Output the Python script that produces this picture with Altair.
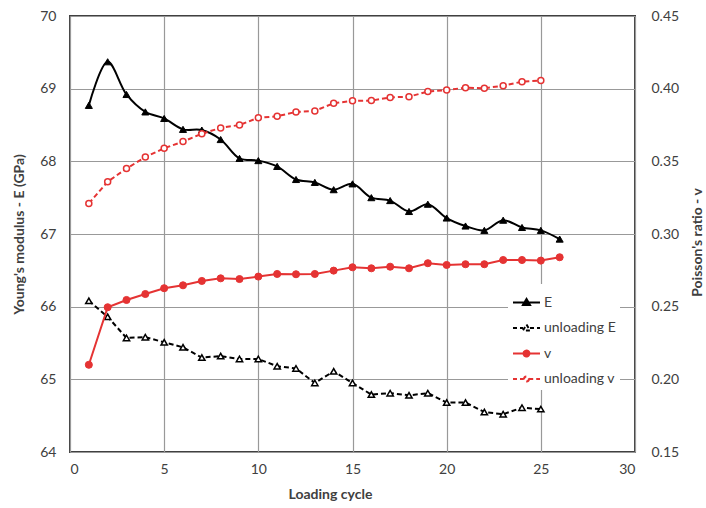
import altair as alt
import pandas as pd

# ---- data ----
cycles_E = list(range(1, 27))
E_vals = [68.77, 69.37, 68.92, 68.68, 68.59, 68.44, 68.43, 68.30, 68.04, 68.01,
          67.93, 67.75, 67.71, 67.61, 67.69, 67.50, 67.46, 67.31, 67.41, 67.22,
          67.11, 67.05, 67.19, 67.09, 67.05, 66.93]

cycles_uE = list(range(1, 26))
uE_vals = [66.08, 65.86, 65.57, 65.58, 65.51, 65.44, 65.30, 65.32, 65.28, 65.28,
           65.18, 65.15, 64.95, 65.11, 64.95, 64.79, 64.81, 64.78, 64.81, 64.68,
           64.68, 64.55, 64.52, 64.61, 64.59]

cycles_v = list(range(1, 27))
v_vals = [0.210, 0.2496, 0.2546, 0.2587, 0.2627, 0.2647, 0.2677, 0.2695, 0.2690, 0.2707,
          0.2725, 0.2723, 0.2725, 0.2748, 0.2771, 0.2764, 0.2775, 0.2764, 0.2799, 0.2787,
          0.2792, 0.2792, 0.2821, 0.2821, 0.2817, 0.2840]

cycles_uv = list(range(1, 26))
uv_vals = [0.321, 0.336, 0.345, 0.353, 0.359, 0.3636, 0.369, 0.373, 0.375, 0.380,
           0.381, 0.384, 0.3847, 0.390, 0.3916, 0.3918, 0.394, 0.3945, 0.398, 0.399,
           0.4007, 0.4003, 0.402, 0.4048, 0.4056]

series_names = ["E", "unloading E", "v", "unloading v"]
x_ticks = [0, 5, 10, 15, 20, 25, 30]
E_ticks = [64, 65, 66, 67, 68, 69, 70]
v_ticks = [0.15, 0.20, 0.25, 0.30, 0.35, 0.40, 0.45]

RED = "#e53333"
BLACK = "#000000"
TXT = "#404040"
FONT = "Lato"

dfE = pd.DataFrame({"cycle": cycles_E, "val": E_vals, "series": "E"})
dfuE = pd.DataFrame({"cycle": cycles_uE, "val": uE_vals, "series": "unloading E"})
dfv = pd.DataFrame({"cycle": cycles_v, "val": v_vals, "series": "v"})
dfuv = pd.DataFrame({"cycle": cycles_uv, "val": uv_vals, "series": "unloading v"})

x_enc = alt.X("cycle:Q", scale=alt.Scale(domain=[0, 30], nice=False),
              axis=alt.Axis(values=x_ticks, title="Loading cycle", grid=True,
                            domain=False, ticks=False, labelPadding=10,
                            titleX=260, titleY=42, titleBaseline="middle",
                            titleAlign="center"))

yE = alt.Y("val:Q", scale=alt.Scale(domain=[64, 70], nice=False, zero=False),
           axis=alt.Axis(values=E_ticks, title="Young's modulus - E (GPa)",
                         orient="left", grid=True, domain=False, ticks=False,
                         labelPadding=14, titleAngle=270, titleX=-51, titleY=218,
                         titleBaseline="middle", titleAlign="center"))

yv = alt.Y("val:Q", scale=alt.Scale(domain=[0.15, 0.45], nice=False, zero=False),
           axis=alt.Axis(values=v_ticks, format=".2f", title="Poisson's ratio - v",
                         orient="right", grid=False, domain=False, ticks=False,
                         labelPadding=16, titleAngle=270, titleX=62, titleY=226,
                         titleBaseline="middle", titleAlign="center"))


def series_layers(df, y, color, dash, shape, open_marker, size, smooth=False):
    line_kwargs = dict(color=color, strokeWidth=2)
    if dash:
        line_kwargs["strokeDash"] = dash
    if smooth:
        line_kwargs["interpolate"] = "catmull-rom"
    line = alt.Chart(df).mark_line(**line_kwargs).encode(x=x_enc, y=y)
    pts = alt.Chart(df).mark_point(
        shape=shape, filled=True, opacity=1, size=size,
        fill="white" if open_marker else color,
        stroke=color, strokeWidth=1.5 if open_marker else 1,
    ).encode(x=x_enc, y=y)
    return [line, pts]


# legend-only layer (no marks drawn; legend comes from the scales)
leg_paths = [
    "M-1,0H1M0,-0.26L0.26,0.18L-0.26,0.18Z",
    "M-1,0H-0.26M0.26,0H1M0,-0.26L0.26,0.18L-0.26,0.18Z",
    "M-1,0H1M0.22,0A0.22,0.22 0 1,1 -0.22,0A0.22,0.22 0 1,1 0.22,0Z",
    "M-1,0H-0.2M0.2,0H1M0.18,0A0.18,0.18 0 1,1 -0.18,0A0.18,0.18 0 1,1 0.18,0Z",
]
legend_def = alt.Legend(title=None, orient="none", legendX=438, legendY=268,
                        fillColor="white", padding=4, symbolSize=729,
                        symbolStrokeWidth=2, labelFont=FONT, labelFontSize=14,
                        labelColor=TXT, labelOffset=3, rowPadding=3.5)
legend_layer = alt.Chart(dfE).transform_filter("false").mark_point(
    opacity=1, filled=False).encode(
    x=x_enc, y=yE,
    shape=alt.Shape("series:N", scale=alt.Scale(domain=series_names, range=leg_paths),
                    legend=legend_def),
    stroke=alt.Stroke("series:N", scale=alt.Scale(domain=series_names,
                                                  range=[BLACK, BLACK, RED, RED]),
                      legend=legend_def),
    fill=alt.Fill("series:N", scale=alt.Scale(domain=series_names,
                                              range=[BLACK, "white", RED, "white"]),
                  legend=legend_def),
    strokeDash=alt.StrokeDash("series:N", scale=alt.Scale(domain=series_names,
                                                          range=[[1, 0], [4, 3], [1, 0], [4, 3]]),
                              legend=legend_def),
)

left = alt.layer(
    *series_layers(dfE, yE, BLACK, None, "triangle-up", False, 50, smooth=True),
    *series_layers(dfuE, yE, BLACK, [5, 3], "triangle-up", True, 40),
    legend_layer,
)
right = alt.layer(
    *series_layers(dfv, yv, RED, None, "circle", False, 50),
    *series_layers(dfuv, yv, RED, [5, 3], "circle", True, 36),
)

chart = alt.layer(left, right).resolve_scale(y="independent").properties(
    width=565, height=436,
    padding={"left": 70, "top": 16, "right": 71, "bottom": 56},
    autosize=alt.AutoSizeParams(type="none"),
    background="white",
).configure_view(stroke=TXT, strokeWidth=2).configure_axis(
    gridColor="#999999", gridWidth=1.2, labelFont=FONT, labelFontSize=14,
    labelColor=TXT, titleFont=FONT, titleFontSize=14, titleFontWeight="bold",
    titleColor=TXT,
)

chart.save("out.html", embed_options={"renderer": "svg", "actions": False})
